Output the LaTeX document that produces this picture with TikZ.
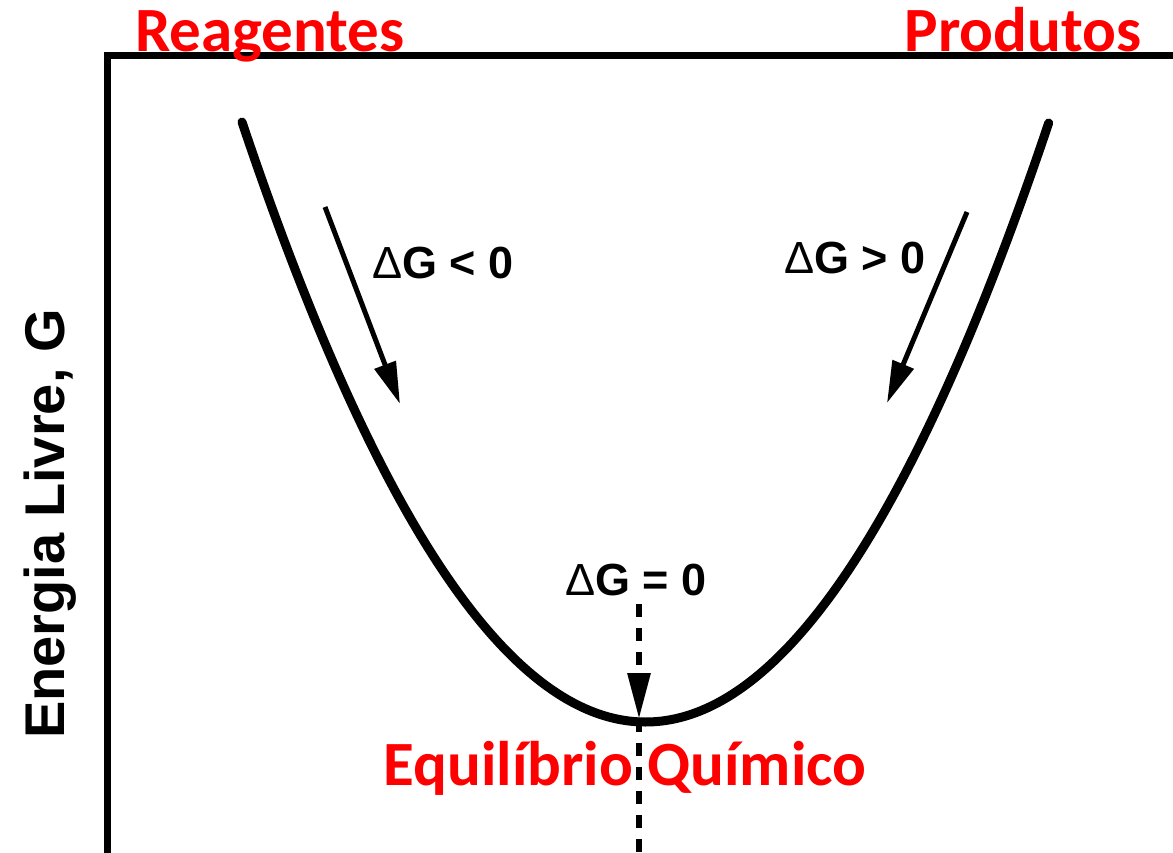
\documentclass[tikz,border=0pt]{standalone}
\usepackage{fontspec}
\newfontfamily\redfont{Carlito}
\newfontfamily\blkfont{Liberation Sans}
\usetikzlibrary{arrows.meta}
\definecolor{lblred}{RGB}{255,0,0}
\newcommand{\dlt}{{\mdseries Δ}}
\begin{document}
\begin{tikzpicture}[x=1pt,y=-1pt,
  redlbl/.style={inner sep=0pt, anchor=base, text=lblred, font=\redfont\bfseries\fontsize{63}{63}\selectfont},
  blklbl/.style={inner sep=0pt, anchor=base, font=\blkfont\bfseries\fontsize{45}{45}\selectfont},
  axisline/.style={line width=7pt, line join=miter},
  curveline/.style={line width=9pt, line cap=round},
  dgarrow/.style={line width=5pt, -{Triangle[length=42pt,width=22pt]}},
  dashline/.style={line width=6pt, dash pattern=on 13pt off 11pt}]
\useasboundingbox (0,0) rectangle (1173,852);
% axes
\coordinate (axbot) at (107,856);
\coordinate (axcorner) at (107,55);
\coordinate (axright) at (1177,55);
\draw[axisline] (axbot) -- (axcorner) -- (axright);
% free energy curve
\draw[curveline, domain=-1:1, samples=120, smooth] plot ({645.5+403.5*\x},{722-600*\x*\x});
% labels
\node[redlbl] (reag) at (270,51) {Reagentes};
\node[redlbl] (prod) at (1023,51) {Produtos};
\node[redlbl] (equil) at (625,785) {Equilíbrio Químico};
\node[blklbl] (dgneg) at (443,278) {\dlt G < 0};
\node[blklbl] (dgpos) at (855,273) {\dlt G > 0};
\node[blklbl] (dgzero) at (636,595) {\dlt G = 0};
\node[inner sep=0pt, rotate=90, font=\blkfont\bfseries\fontsize{56}{56}\selectfont] (ylab) at (50,524) {Energia Livre, G};
% arrows
\coordinate (la1) at (325,207);
\coordinate (la2) at (400,404);
\coordinate (ra1) at (967,212);
\coordinate (ra2) at (887,403);
\draw[dgarrow] (la1) -- (la2);
\draw[dgarrow] (ra1) -- (ra2);
% dashed equilibrium line
\coordinate (eqtop) at (639,604);
\coordinate (eqmin) at (639,719);
\coordinate (eqbot) at (639,856);
\draw[dashline, -{Triangle[length=46pt,width=22pt]}] (eqtop) -- (eqmin);
\draw[dashline] (eqmin) -- (eqbot);
\end{tikzpicture}
\end{document}
